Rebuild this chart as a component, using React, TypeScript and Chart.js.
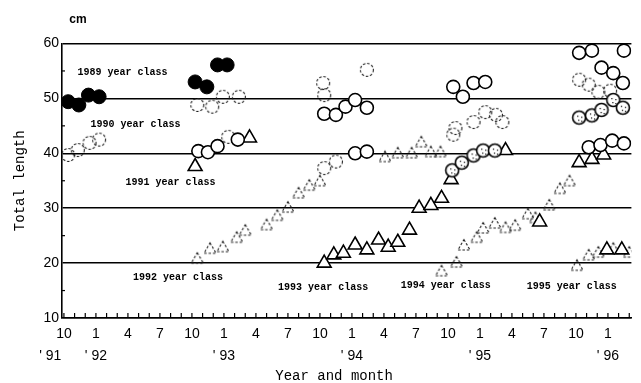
import React, { useEffect, useRef } from 'react';
import { Chart, registerables } from 'chart.js';
Chart.register(...registerables);

// x = months since October 1991, y = total length (cm)
const xTickMonths = [0, 3, 6, 9, 12, 15, 18, 21, 24, 27, 30, 33, 36, 39, 42, 45, 48, 51];
const monthLabels = ['10', '1', '4', '7', '10', '1', '4', '7', '10', '1', '4', '7', '10', '1', '4', '7', '10', '1'];
const yearLabels = ["' 91       ", "' 92", '', '', '', "' 93", '', '', '', "' 94", '', '', '', "' 95", '', '', '', "' 96"];
const yTicks = [10, 20, 30, 40, 50, 60];

const filledCircles = [
  [0.4, 49.4], [1.4, 48.8], [2.3, 50.6], [3.3, 50.3],
  [12.3, 53.0], [13.4, 52.1], [14.4, 56.1], [15.3, 56.1],
];

const openCircles = [
  [12.6, 40.4], [13.5, 40.2], [14.4, 41.3], [16.3, 42.5],
  [24.4, 47.2], [25.5, 47.0], [26.4, 48.5], [27.3, 49.7], [28.4, 48.3],
  [27.3, 40.0], [28.4, 40.3],
  [36.5, 52.1], [37.4, 50.3], [38.4, 52.8], [39.5, 53.0],
  [48.3, 58.3], [49.5, 58.7], [52.5, 58.7], [50.4, 55.6], [51.5, 54.6], [52.4, 52.8],
  [49.2, 41.1], [50.3, 41.5], [51.4, 42.3], [52.5, 41.8],
];

const dottedCircles = [
  [36.4, 36.9], [37.3, 38.3], [38.4, 39.6], [39.3, 40.5], [40.4, 40.5],
  [48.3, 46.5], [49.5, 46.9], [50.4, 47.9], [51.5, 49.7], [52.4, 48.3],
];

const boldTriangles = [
  [12.3, 37.6], [17.4, 42.8],
  [24.4, 20.0], [25.3, 21.5], [26.2, 21.8], [27.3, 23.3], [28.4, 22.4], [29.5, 24.2],
  [30.4, 22.9], [31.3, 23.8], [32.4, 26.0], [33.3, 30.0], [34.4, 30.5], [35.4, 31.8], [36.3, 35.2],
  [41.4, 40.5], [44.6, 27.5],
  [48.3, 38.3], [49.5, 38.9], [50.6, 39.7],
  [50.9, 22.4], [52.3, 22.4],
];

const faintTriangles = [
  [12.5, 20.9], [13.7, 22.7], [14.9, 23.0], [16.2, 24.7], [17.0, 26.0], [19.0, 27.0],
  [20.0, 28.7], [21.0, 30.2], [22.0, 32.8], [23.0, 34.2], [24.0, 35.0],
  [30.1, 39.4], [31.3, 40.1], [32.6, 40.1], [33.5, 42.1], [34.4, 40.3], [35.3, 40.3],
  [35.4, 18.6], [36.8, 20.2], [37.5, 23.3], [38.7, 24.7], [39.3, 26.4], [40.4, 27.3],
  [41.4, 26.5], [42.3, 26.9], [43.5, 29.0], [44.2, 28.3], [45.5, 30.6], [46.5, 33.6], [47.4, 35.0],
  [48.1, 19.6], [49.2, 21.5], [50.1, 22.0], [51.5, 22.7], [53.0, 22.0],
];

const faintCircles = [
  [0.4, 39.7], [1.3, 40.6], [2.4, 41.9], [3.3, 42.5],
  [12.5, 48.8], [13.9, 48.5], [14.9, 50.3], [16.4, 50.3], [15.4, 43.0],
  [24.3, 52.8], [24.4, 50.6], [28.4, 55.2],
  [24.4, 37.3], [25.5, 38.5],
  [36.5, 43.4], [36.7, 44.6], [38.4, 45.7], [39.5, 47.5], [40.5, 47.0], [41.1, 45.7],
  [48.3, 53.4], [49.2, 52.5], [50.1, 51.2], [51.2, 51.4],
];

const classLabels = ['1989 year class', '1990 year class', '1991 year class', '1992 year class', '1993 year class', '1994 year class', '1995 year class'];
const classLabelX = [5.5, 6.7, 10.0, 10.7, 24.3, 35.8, 47.6];
const classLabelY = [54.8, 45.2, 34.6, 17.4, 15.5, 15.9, 15.7];

function toPts(arr: number[][]) {
  return arr.map(([x, y]) => ({ x, y }));
}

function makeMarker(kind: string) {
  const s = 20;
  const c = document.createElement('canvas');
  c.width = s;
  c.height = s;
  const ctx = c.getContext('2d')!;
  const cx = s / 2, cy = s / 2;
  if (kind === 'dotted') {
    ctx.beginPath();
    ctx.arc(cx, cy, 6.5, 0, Math.PI * 2);
    ctx.fillStyle = '#fff';
    ctx.fill();
    ctx.lineWidth = 1.6;
    ctx.strokeStyle = '#000';
    ctx.stroke();
    ctx.fillStyle = '#000';
    [[-2, -2], [2, -1], [-1, 2], [2, 3]].forEach(([dx, dy]) => ctx.fillRect(cx + dx, cy + dy, 1.2, 1.2));
  } else if (kind === 'faintCircle') {
    ctx.beginPath();
    ctx.arc(cx, cy, 6.5, 0, Math.PI * 2);
    ctx.setLineDash([2.5, 1.8]);
    ctx.lineWidth = 1.1;
    ctx.strokeStyle = '#222';
    ctx.stroke();
  } else if (kind === 'faintTriangle') {
    const r = 7;
    ctx.beginPath();
    for (let i = 0; i < 3; i++) {
      const a = (i * 2 * Math.PI) / 3;
      const px = cx + Math.sin(a) * r, py = cy + 1.5 - Math.cos(a) * r;
      if (i === 0) ctx.moveTo(px, py); else ctx.lineTo(px, py);
    }
    ctx.closePath();
    ctx.setLineDash([2.5, 1.8]);
    ctx.lineWidth = 1.1;
    ctx.strokeStyle = '#222';
    ctx.stroke();
  }
  return c;
}

const decor = {
  id: 'decor',
  afterDatasetsDraw(chart: any) {
    const { ctx, chartArea, scales } = chart;
    const xs = scales.x, ys = scales.y;
    ctx.save();
    ctx.strokeStyle = '#000';
    ctx.lineWidth = 1.2;
    // inward month ticks
    for (let m = 0; m <= 53; m++) {
      const px = xs.getPixelForValue(m);
      if (px > chartArea.right) break;
      ctx.beginPath();
      ctx.moveTo(px, chartArea.bottom);
      ctx.lineTo(px, chartArea.bottom - 5);
      ctx.stroke();
    }
    // minor y ticks
    [15, 25, 35, 45, 55].forEach((v) => {
      const py = ys.getPixelForValue(v);
      ctx.beginPath();
      ctx.moveTo(chartArea.left, py);
      ctx.lineTo(chartArea.left + 3, py);
      ctx.stroke();
    });
    // year class labels
    ctx.fillStyle = '#000';
    ctx.font = 'bold 10px "Liberation Mono", monospace';
    ctx.textAlign = 'center';
    ctx.textBaseline = 'middle';
    classLabels.forEach((t, i) => {
      ctx.fillText(t, xs.getPixelForValue(classLabelX[i]), ys.getPixelForValue(classLabelY[i]));
    });
    // unit
    ctx.font = 'bold 12px "Liberation Sans", Arial, sans-serif';
    ctx.fillText('cm', chartArea.left + 16, 20);
    ctx.restore();
  },
};

export default function App() {
  const ref = useRef<HTMLCanvasElement>(null);
  useEffect(() => {
    if (!ref.current) return;
    const dotted = makeMarker('dotted');
    const fCircle = makeMarker('faintCircle');
    const fTri = makeMarker('faintTriangle');
    const chart = new Chart(ref.current, {
      type: 'scatter',
      data: {
        datasets: [
          { label: 'filled', data: toPts(filledCircles), pointStyle: 'circle', pointRadius: 7, backgroundColor: '#000', borderColor: '#000', borderWidth: 1 },
          { label: 'dotted', data: toPts(dottedCircles), pointStyle: dotted, pointRadius: 7 },
          { label: 'open', data: toPts(openCircles), pointStyle: 'circle', pointRadius: 6.5, backgroundColor: '#fff', borderColor: '#000', borderWidth: 1.6 },
          { label: 'tri', data: toPts(boldTriangles), pointStyle: 'triangle', pointRadius: 8, backgroundColor: '#fff', borderColor: '#000', borderWidth: 1.6 },
          { label: 'fcircle', data: toPts(faintCircles), pointStyle: fCircle, pointRadius: 7 },
          { label: 'ftri', data: toPts(faintTriangles), pointStyle: fTri, pointRadius: 7 },
        ],
      },
      options: {
        animation: false,
        responsive: false,
        events: [],
        layout: { padding: { left: 7, top: 43.5, right: 0, bottom: 0 } },
        plugins: { legend: { display: false }, tooltip: { enabled: false } },
        scales: {
          x: {
            type: 'linear',
            min: -0.18,
            max: 53.2,
            afterBuildTicks: (s: any) => { s.ticks = xTickMonths.map((v) => ({ value: v })); },
            afterFit: (s: any) => { s.height = 65; },
            grid: { display: false, drawTicks: false },
            border: { display: true, color: '#000', width: 1.6 },
            ticks: {
              autoSkip: false,
              maxRotation: 0,
              padding: 5,
              color: '#000',
              font: { family: '"Liberation Sans", Arial, sans-serif', size: 14, lineHeight: 1.57 },
              callback: (_v: any, i: number) => [monthLabels[i], yearLabels[i]],
            },
            title: {
              display: true,
              text: 'Year and month   ',
              color: '#000',
              font: { family: '"Liberation Mono", monospace', size: 14, lineHeight: 1 },
              padding: { top: 0, bottom: 0 },
            },
          },
          y: {
            type: 'linear',
            min: 10,
            max: 60,
            afterBuildTicks: (s: any) => { s.ticks = yTicks.map((v) => ({ value: v })); },
            afterFit: (s: any) => { s.width = 55; },
            grid: { color: '#000', lineWidth: 1.6, drawTicks: false },
            border: { display: true, color: '#000', width: 1.6 },
            ticks: {
              padding: 3,
              color: '#000',
              font: { family: '"Liberation Sans", Arial, sans-serif', size: 14 },
              callback: (v: any) => String(v),
            },
            title: {
              display: true,
              text: 'Total length',
              color: '#000',
              font: { family: '"Liberation Mono", monospace', size: 14, lineHeight: 1.2 },
              padding: { top: 5, bottom: 0 },
            },
          },
        },
      },
      plugins: [decor],
    } as any);
    return () => chart.destroy();
  }, []);
  return (
    <div style={{ position: 'absolute', left: 0, top: 0, width: 641, height: 383, background: '#fff' }}>
      <canvas ref={ref} width={641} height={383} style={{ width: 641, height: 383, display: 'block' }} />
    </div>
  );
}
